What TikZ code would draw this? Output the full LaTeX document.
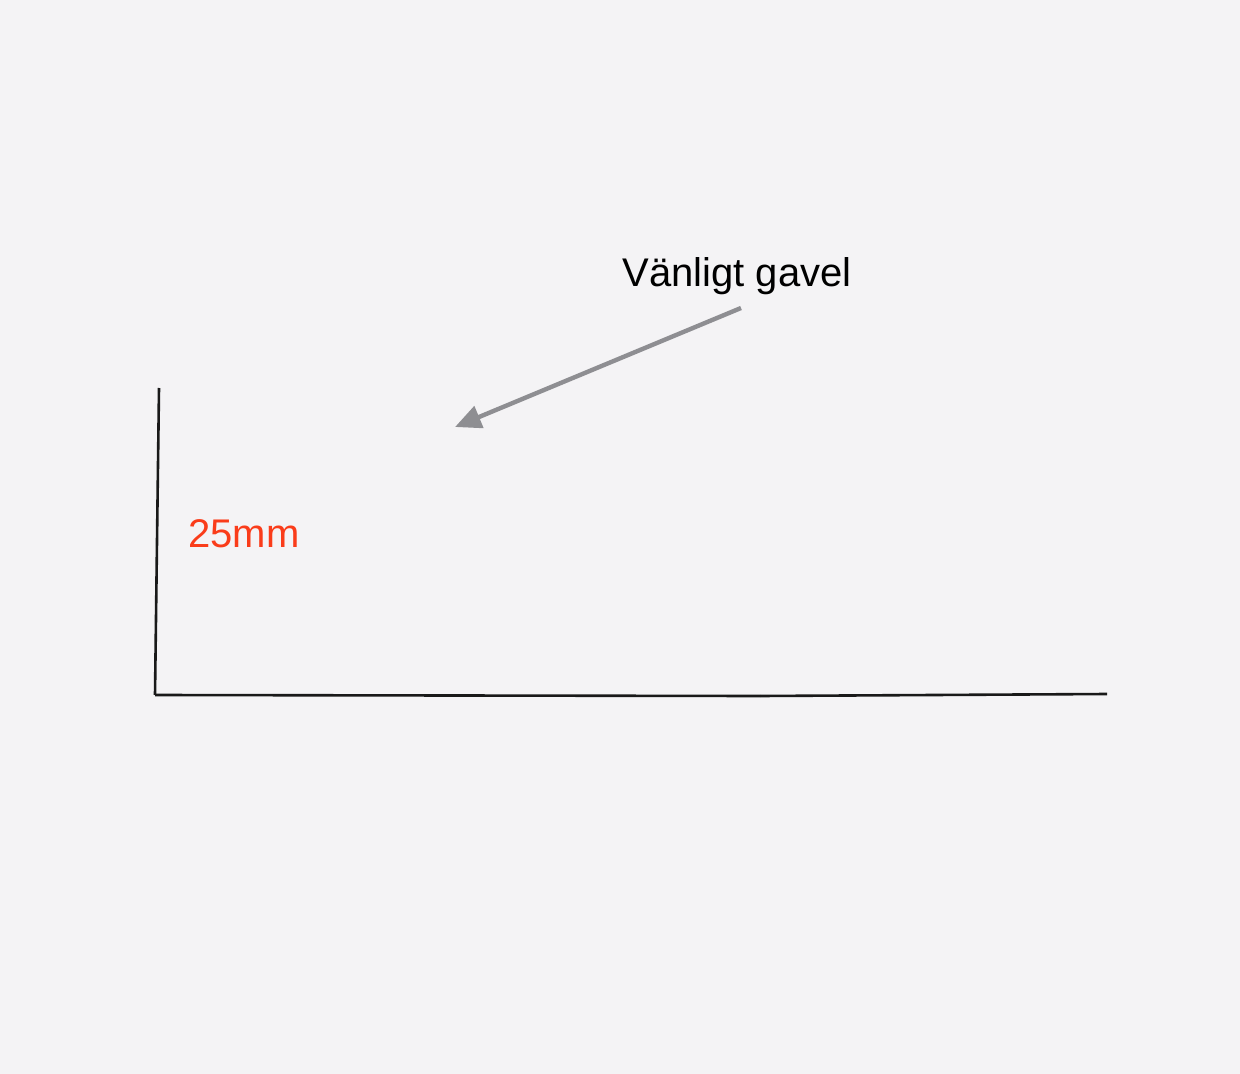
\documentclass[tikz,border=0pt]{standalone}
\usepackage{fontspec}
\setmainfont{Liberation Sans}
\usetikzlibrary{arrows.meta}

\definecolor{paperGray}{HTML}{F4F3F5}
\definecolor{arrowGray}{HTML}{8E8E92}
\definecolor{sizeRed}{HTML}{FA3C1A}

\begin{document}
\begin{tikzpicture}
[x=0.5pt,y=-0.5pt,
  lineDecorate/.style={-,line width=1.3pt,draw=black!90},%
  arrowDecorate/.style={-{Triangle[length=13pt,width=11.5pt]},line width=2.2pt,draw=arrowGray},%
  labelDecorate/.style={inner sep=0pt,anchor=base west,font=\fontsize{20pt}{23pt}\selectfont}]
%% background
\fill[paperGray] (0,0) rectangle (1240,1074);
\useasboundingbox (0,0) rectangle (1240,1074);
%% corners of the profile
\foreach \nodename/\x/\y in {top/159/388, corner/155/695, mid/760/696, far/1107/694} {
  \coordinate (\nodename) at (\x,\y);
}
%% labels
\node (gavel) at (622,287) [labelDecorate] {Vänligt gavel};
\node (height) at (188,547) [labelDecorate,text=sizeRed] {25mm};
\coordinate (tail) at (741,308);
\coordinate (tip) at (455,427);
%% edges or lines
\path
\foreach \startnode/\endnode in {top/corner, corner/mid, mid/far} {
  (\startnode) edge[lineDecorate] (\endnode)
};
\draw[arrowDecorate] (tail) -- (tip);
\end{tikzpicture}
\end{document}
